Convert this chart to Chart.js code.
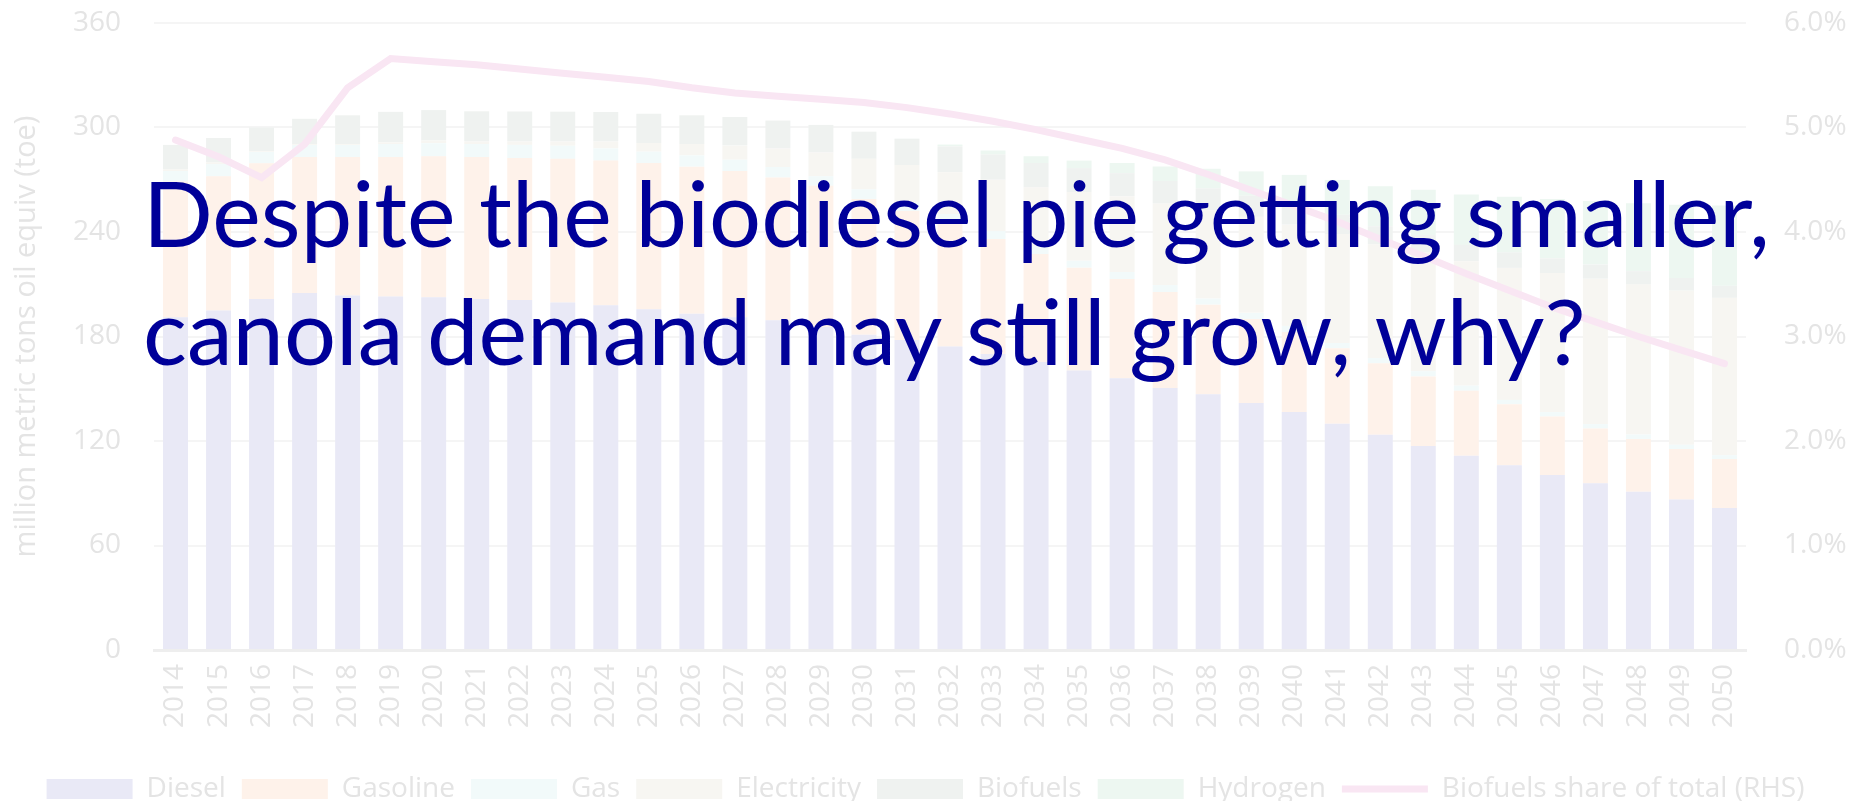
<!DOCTYPE html>
<html>
<head>
<meta charset="utf-8">
<script src="https://cdn.jsdelivr.net/npm/chart.js@4/dist/chart.umd.min.js"></script>
<style>
  html, body { margin: 0; padding: 0; background: #ffffff; }
  #wrap { width: 1851px; height: 801px; position: relative; }
</style>
</head>
<body>
<div id="wrap"><canvas id="demandChart"></canvas></div>
<script>
// years on the x axis
const years = ["2014","2015","2016","2017","2018","2019","2020","2021","2022","2023","2024","2025","2026",
  "2027","2028","2029","2030","2031","2032","2033","2034","2035","2036","2037","2038","2039","2040",
  "2041","2042","2043","2044","2045","2046","2047","2048","2049","2050"];

// million metric tons oil equiv
const diesel = [191,195,201.5,205,203.5,203,202.5,201.5,201,199.5,198,195.6,193,191,189.3,185.5,181,178,174.3,
  170,165.3,160.5,156,150.5,146.8,141.8,136.6,129.9,123.6,117.2,111.5,106.1,100.5,95.7,90.8,86.4,81.6];
const gasoline = [78,77,78,78,79.5,80,81,81.5,81.5,82.5,83,84,84.5,84,82,81,78,74,71,
  66,62,59,57,55,51.5,48.3,46,43.4,41,39.9,37.3,35,33.6,31.5,30.4,29,28];
const gas = [6,7,6.5,7,7,7.5,7.5,7.5,7.5,7.5,7,6.5,6.5,6.5,6,5.5,5.5,5,5,
  4.5,4.5,4,4,4,3.5,3.5,3.5,3,3,3,3,2.5,2.5,2.5,2.5,2.5,2.2];
const electricity = [1,1,0.5,0.5,0.5,1,1.5,1.5,2,2.5,4,5,6.5,8.2,10.6,13.6,17.5,21.4,24,
  29.5,33.7,39.5,43.4,46.8,50.7,55.1,58.1,62.5,65.2,68.1,71.4,75.8,79.8,83.5,86.1,88.4,90.4];
const biofuels = [14,14,13.5,14.5,16.5,17.5,17.5,17.3,17.2,17.1,16.9,16.8,16.5,16.3,16.1,15.9,15.6,15.2,14.9,
  14.5,14.1,13.7,13.4,13,12.6,12.1,11.6,11.1,10.5,10,9.4,8.9,8.5,8.1,7.7,7.3,7];
const hydrogen = [0,0,0,0,0,0,0,0,0,0,0,0,0,0,0,0,0,0,1,
  2.3,3.9,4.3,5.8,8.3,11.2,14,17,20,23,26,29,32,34,36.5,39,42,46];

// biofuels share of total, percent (right axis)
const biofuelShare = [4.88,4.72,4.52,4.84,5.38,5.66,5.63,5.60,5.56,5.52,5.48,5.44,5.38,5.33,5.30,5.27,5.24,5.19,5.13,
  5.06,4.98,4.89,4.80,4.69,4.55,4.40,4.25,4.10,3.93,3.77,3.60,3.44,3.28,3.14,3.00,2.87,2.74];

const leftTicks = [0, 60, 120, 180, 240, 300, 360];
const rightTicks = [0, 1, 2, 3, 4, 5, 6];

const headline = ["Despite the biodiesel pie getting smaller,", "canola demand may still grow, why?"];

const faint = "#e4e4e4";
Chart.defaults.font.family = "'Open Sans', sans-serif";
Chart.defaults.font.size = 28;
Chart.defaults.color = faint;

function barSet(label, data, color) {
  return {
    type: "bar", label: label, data: data, backgroundColor: color,
    borderWidth: 0, stack: "fuel", yAxisID: "y", order: 1, pointStyle: "rect",
    barPercentage: 0.58, categoryPercentage: 1
  };
}

// no extra padding from tick labels, the sizes are set by hand
function noPad(s) {
  s.paddingTop = 0;
  s.paddingBottom = 0;
}

// big headline on top of the faded chart + legend nudge
const overlay = {
  id: "overlay",
  afterLayout(chart) {
    chart.legend.top += 12;
    chart.legend.bottom += 12;
  },
  afterDraw(chart) {
    const ctx = chart.ctx;
    ctx.save();
    ctx.fillStyle = "#000099";
    ctx.font = "80px Lato";
    let size = 80 * 1627 / ctx.measureText(headline[0]).width;
    ctx.font = size + "px Lato";
    ctx.textAlign = "left";
    ctx.textBaseline = "alphabetic";
    ctx.fillText(headline[0], 143, 247);
    ctx.fillText(headline[1], 143, 365);
    ctx.restore();
  }
};

new Chart("demandChart", {
  data: {
    labels: years,
    datasets: [
      barSet("Diesel", diesel, "#e9e9f6"),
      barSet("Gasoline", gasoline, "#fef2ea"),
      barSet("Gas", gas, "#f2fafa"),
      barSet("Electricity", electricity, "#f7f6f2"),
      barSet("Biofuels", biofuels, "#eff2f0"),
      barSet("Hydrogen", hydrogen, "#edf7f1"),
      {
        type: "line", label: "Biofuels share of total (RHS)", data: biofuelShare,
        borderColor: "#f9e6f3", backgroundColor: "#f9e6f3", borderWidth: 7,
        pointRadius: 0, tension: 0, yAxisID: "y1", order: 0, pointStyle: "line",
        borderCapStyle: "round"
      }
    ]
  },
  options: {
    responsive: true,
    maintainAspectRatio: false,
    animation: false,
    layout: { autoPadding: false, padding: { top: 23, left: 0, right: 0, bottom: 0 } },
    plugins: {
      tooltip: { enabled: false },
      legend: {
        position: "bottom",
        labels: {
          usePointStyle: true,
          pointStyleWidth: 86,
          boxHeight: 20,
          padding: 16,
          color: faint,
          font: { size: 28 },
          sort: (a, b) => a.datasetIndex - b.datasetIndex
        }
      }
    },
    scales: {
      x: {
        stacked: true,
        grid: { display: false, drawTicks: false },
        border: { display: true, color: "#eeeeee", width: 3 },
        ticks: { minRotation: 90, maxRotation: 90, autoSkip: false, padding: 14, color: faint },
        afterFit: s => { s.height = 97; }
      },
      y: {
        position: "left",
        stacked: true,
        min: 0, max: 360,
        afterBuildTicks: s => { s.ticks = leftTicks.map(v => ({ value: v })); },
        grid: { color: "#f5f5f5", lineWidth: 2, drawTicks: false },
        border: { display: false },
        ticks: { padding: 33, color: faint },
        title: {
          display: true, text: "million metric tons oil equiv (toe)",
          color: faint, font: { size: 29 }, padding: { top: 9, bottom: 0 }
        },
        afterFit: s => { s.width = 154; noPad(s); }
      },
      y1: {
        position: "right",
        min: 0, max: 6,
        afterBuildTicks: s => { s.ticks = rightTicks.map(v => ({ value: v })); },
        grid: { display: false, drawTicks: false },
        border: { display: false },
        ticks: { padding: 38, color: faint, callback: v => v.toFixed(1) + "%" },
        afterFit: s => { s.width = 105; noPad(s); }
      }
    }
  },
  plugins: [overlay]
});
</script>
</body>
</html>
